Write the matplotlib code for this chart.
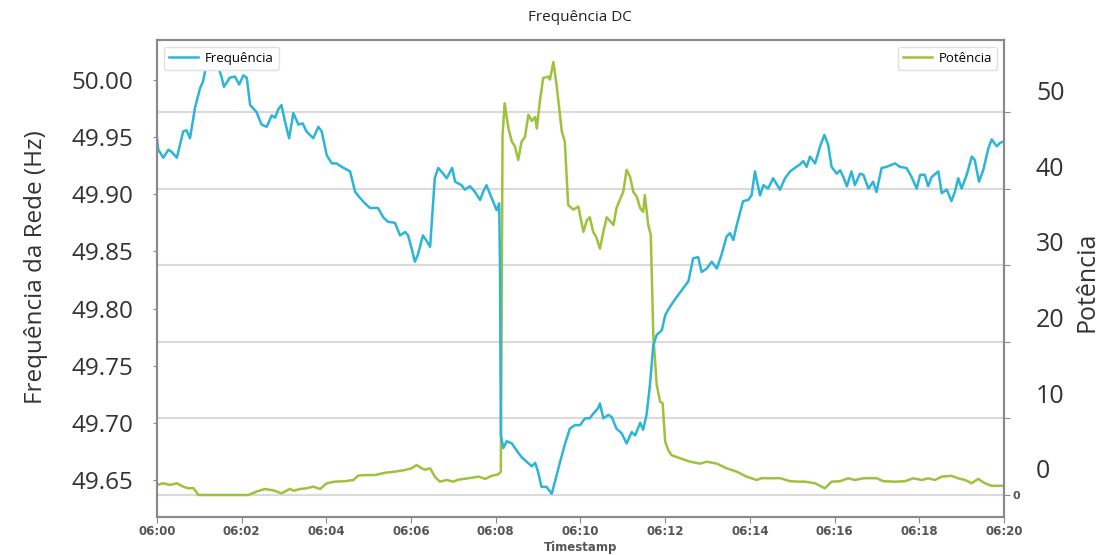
import pandas as pd
import matplotlib.pyplot as plt
import matplotlib.dates as mdates

# Minutes after 06:00 and grid frequency (Hz)
freq_minutes = [
    0.00, 0.03, 0.15, 0.27, 0.35, 0.47, 0.62, 0.70, 0.78, 0.90, 1.02, 1.09, 1.16, 1.30,
    1.45, 1.53, 1.58, 1.72, 1.84, 1.94, 2.04, 2.12, 2.20, 2.35, 2.47, 2.59, 2.71, 2.79,
    2.86, 2.94, 3.02, 3.12, 3.22, 3.34, 3.44, 3.53, 3.69, 3.81, 3.89, 4.01, 4.13, 4.24,
    4.36, 4.56, 4.68, 4.79, 4.91, 5.03, 5.22, 5.34, 5.45, 5.62, 5.74, 5.86, 5.93, 6.01,
    6.09, 6.16, 6.28, 6.37, 6.45, 6.56, 6.64, 6.76, 6.84, 6.97, 7.04, 7.19, 7.27, 7.39,
    7.51, 7.63, 7.70, 7.78, 7.90, 8.02, 8.08, 8.10, 8.12, 8.18, 8.26, 8.38, 8.49, 8.61,
    8.73, 8.85, 8.93, 9.00, 9.08, 9.20, 9.32, 9.40, 9.52, 9.63, 9.75, 9.87, 9.99, 10.11,
    10.22, 10.30, 10.42, 10.46, 10.54, 10.66, 10.74, 10.85, 10.97, 11.09, 11.21, 11.29,
    11.41, 11.48, 11.56, 11.64, 11.72, 11.80, 11.92, 12.00, 12.07, 12.23, 12.43, 12.55,
    12.66, 12.78, 12.86, 12.98, 13.10, 13.22, 13.33, 13.45, 13.53, 13.61, 13.69, 13.84,
    13.96, 14.04, 14.12, 14.24, 14.32, 14.43, 14.55, 14.71, 14.83, 14.95, 15.06, 15.18,
    15.26, 15.34, 15.42, 15.54, 15.66, 15.76, 15.85, 15.93, 16.05, 16.13, 16.21, 16.29,
    16.40, 16.48, 16.60, 16.68, 16.80, 16.91, 16.99, 17.11, 17.23, 17.43, 17.54, 17.70,
    17.82, 17.94, 18.02, 18.13, 18.21, 18.29, 18.45, 18.53, 18.65, 18.76, 18.84, 18.92,
    19.00, 19.12, 19.24, 19.31, 19.41, 19.51, 19.63, 19.71, 19.83, 19.91, 19.98,
]
freq_hz = [
    49.949, 49.939, 49.932, 49.939, 49.937, 49.932, 49.955, 49.956, 49.949, 49.976, 49.993, 49.999, 50.012, 50.014,
    50.011, 50.002, 49.994, 50.002, 50.003, 49.996, 50.004, 50.002, 49.978, 49.972, 49.961, 49.959, 49.969, 49.967,
    49.974, 49.978, 49.964, 49.949, 49.971, 49.961, 49.962, 49.955, 49.949, 49.959, 49.955, 49.934, 49.927, 49.927,
    49.924, 49.920, 49.902, 49.897, 49.892, 49.888, 49.888, 49.880, 49.876, 49.875, 49.864, 49.867, 49.864, 49.853,
    49.841, 49.847, 49.864, 49.859, 49.854, 49.914, 49.923, 49.918, 49.914, 49.923, 49.911, 49.908, 49.904, 49.907,
    49.902, 49.895, 49.902, 49.908, 49.897, 49.886, 49.892, 49.838, 49.689, 49.678, 49.684, 49.682, 49.676, 49.670,
    49.666, 49.662, 49.665, 49.657, 49.644, 49.644, 49.638, 49.649, 49.666, 49.681, 49.695, 49.698, 49.698, 49.704,
    49.704, 49.708, 49.713, 49.717, 49.704, 49.707, 49.705, 49.695, 49.691, 49.682, 49.692, 49.689,
    49.700, 49.694, 49.707, 49.733, 49.768, 49.777, 49.781, 49.794, 49.799, 49.808, 49.818, 49.824,
    49.844, 49.845, 49.832, 49.835, 49.841, 49.835, 49.847, 49.863, 49.866, 49.860, 49.873, 49.894,
    49.895, 49.899, 49.920, 49.899, 49.908, 49.905, 49.914, 49.904, 49.914, 49.920, 49.923, 49.926,
    49.929, 49.924, 49.933, 49.927, 49.942, 49.952, 49.943, 49.924, 49.918, 49.921, 49.915, 49.907,
    49.920, 49.908, 49.918, 49.917, 49.905, 49.911, 49.902, 49.923, 49.924, 49.927, 49.924, 49.923,
    49.915, 49.905, 49.917, 49.917, 49.907, 49.915, 49.920, 49.901, 49.904, 49.894, 49.902, 49.914,
    49.905, 49.917, 49.933, 49.930, 49.911, 49.921, 49.940, 49.948, 49.942, 49.945, 49.946,
]

# Minutes after 06:00 and DC power
power_minutes = [
    0.00, 0.14, 0.31, 0.47, 0.62, 0.74, 0.86, 0.98, 2.16, 2.35, 2.55, 2.75, 2.94, 3.14,
    3.22, 3.38, 3.53, 3.69, 3.85, 4.01, 4.20, 4.44, 4.64, 4.75, 4.91, 5.15, 5.38, 5.62,
    5.86, 6.01, 6.13, 6.25, 6.33, 6.45, 6.56, 6.68, 6.84, 7.00, 7.11, 7.35, 7.59, 7.75,
    7.90, 8.06, 8.12, 8.16, 8.21, 8.30, 8.38, 8.45, 8.53, 8.61, 8.69, 8.77, 8.85, 8.93,
    8.97, 9.04, 9.12, 9.24, 9.28, 9.36, 9.44, 9.56, 9.63, 9.71, 9.83, 9.95, 10.07, 10.15,
    10.22, 10.30, 10.38, 10.46, 10.54, 10.62, 10.70, 10.78, 10.85, 10.93, 11.01, 11.09,
    11.17, 11.25, 11.33, 11.41, 11.48, 11.52, 11.60, 11.66, 11.72, 11.80, 11.88, 11.94,
    12.00, 12.07, 12.15, 12.35, 12.59, 12.82, 12.98, 13.22, 13.45, 13.69, 13.92, 14.16,
    14.28, 14.47, 14.71, 14.95, 15.18, 15.30, 15.54, 15.77, 15.93, 16.13, 16.32, 16.48,
    16.68, 16.84, 17.00, 17.15, 17.43, 17.66, 17.86, 18.06, 18.21, 18.37, 18.53, 18.76,
    18.92, 19.08, 19.24, 19.39, 19.55, 19.71, 19.95,
]
power_values = [
    1.31, 1.53, 1.31, 1.53, 1.09, 0.87, 0.90, 0.00, 0.00, 0.44, 0.78, 0.60, 0.22, 0.80,
    0.55, 0.78, 0.87, 1.09, 0.78, 1.53, 1.74, 1.80, 1.96, 2.53, 2.60, 2.61, 2.90, 3.05,
    3.27, 3.48, 3.92, 3.48, 3.30, 3.48, 2.40, 1.74, 1.96, 1.74, 2.00, 2.18, 2.40, 2.10,
    2.50, 2.70, 3.05, 47.0, 51.2, 47.9, 46.2, 45.6, 43.8, 46.2, 46.8, 49.7, 48.9, 49.4,
    47.9, 51.4, 54.5, 54.7, 54.3, 56.6, 53.4, 47.5, 46.2, 37.9, 37.3, 37.7, 34.4, 35.9,
    36.3, 34.4, 33.6, 32.2, 34.4, 36.3, 35.8, 35.3, 37.5, 38.6, 39.6, 42.5,
    41.6, 39.6, 39.0, 37.5, 37.0, 39.2, 35.3, 34.0, 20.9, 14.4, 12.2, 12.0,
    7.0, 5.9, 5.2, 4.8, 4.35, 4.10, 4.35, 4.10, 3.48, 3.05, 2.40, 1.96,
    2.20, 2.18, 2.20, 1.80, 1.74, 1.74, 1.53, 0.87, 1.74, 1.80, 2.18, 1.96,
    2.18, 2.20, 2.18, 1.80, 1.74, 1.80, 2.18, 1.96, 2.18, 1.96, 2.40, 2.50,
    2.18, 1.96, 1.53, 2.10, 1.53, 1.20, 1.20,
]

freq_ticks = [49.65, 49.70, 49.75, 49.80, 49.85, 49.90, 49.95, 50.00]
power_ticks = [0, 10, 20, 30, 40, 50]
power_tick_labels = ['0', '', '', '', '', '']

start = pd.Timestamp('2024-01-01 06:00')
freq_time = start + pd.to_timedelta(freq_minutes, unit='m')
power_time = start + pd.to_timedelta(power_minutes, unit='m')

blue = '#2cb5d6'
green = '#9dc23b'
spine_gray = '#8a8a8a'

fig = plt.figure(figsize=(11.18, 5.55), dpi=100)
ax = fig.add_axes([0.1404, 0.069, 0.7576, 0.859])
ax2 = ax.twinx()
ax3 = ax.twinx()

# frequency axis sits above the power axis so the blue trace is on top
ax.set_zorder(ax2.get_zorder() + 2)
ax.patch.set_visible(False)

ax.plot(freq_time, freq_hz, color=blue, lw=1.8, label='Frequência')
ax2.plot(power_time, power_values, color=green, lw=1.8, label='Potência')

ax.set_xlim(start, start + pd.Timedelta(minutes=20))
ax.set_ylim(49.6179, 50.035)
ax2.set_ylim(-2.84, 59.48)
ax3.set_ylim(-6.35, 56.7)

ax.xaxis.set_major_locator(mdates.MinuteLocator(byminute=range(0, 60, 2)))
ax.xaxis.set_major_formatter(mdates.DateFormatter('%H:%M'))
ax.tick_params(axis='x', length=4, color=spine_gray, labelsize=8.5, labelcolor='#555555', pad=2)
for lbl in ax.get_xticklabels():
    lbl.set_fontweight('bold')
ax.set_xlabel('Timestamp', fontsize=8.5, fontweight='bold', color='#555555', labelpad=2)

ax.set_yticks(freq_ticks)
ax.set_yticklabels([f'{v:.2f}' for v in freq_ticks], family='Open Sans')
ax.tick_params(axis='y', length=3, color=spine_gray, labelsize=17.5, labelcolor='#333333', pad=14)

ax2.set_yticks(power_ticks)
ax2.set_yticklabels(power_tick_labels)
ax2.tick_params(axis='y', length=4, color=spine_gray, labelsize=8, labelcolor='#555555', pad=2)
for lbl in ax2.get_yticklabels():
    lbl.set_fontweight('bold')
ax2.grid(axis='y', color='#dadada', lw=1.5)
ax2.set_axisbelow(True)

ax3.set_yticks(power_ticks)
ax3.set_yticklabels([str(v) for v in power_ticks], family='Open Sans')
ax3.tick_params(axis='y', length=0, labelsize=18, labelcolor='#333333', pad=23)
for side in ['left', 'right', 'top', 'bottom']:
    ax3.spines[side].set_visible(False)

for a in (ax, ax2):
    for side in ['left', 'right', 'top', 'bottom']:
        a.spines[side].set_color(spine_gray)
        a.spines[side].set_linewidth(1.5)

leg_kw = dict(prop={'family': 'Open Sans', 'size': 9.5}, handlelength=2.2, handletextpad=0.5,
              borderaxespad=0.5, borderpad=0.4, framealpha=1, edgecolor='#e0e0e0')
ax.legend(loc='upper left', **leg_kw)
ax2.legend(loc='upper right', **leg_kw)

fig.text(0.519, 0.9676, 'Frequência DC', ha='center', va='center', family='Open Sans', fontsize=11,
         color='#222222')
fig.text(0.0322, 0.519, 'Frequência da Rede (Hz)', rotation=90, ha='center', va='center',
         family='Open Sans', fontsize=17.5, color='#333333')
fig.text(0.9723, 0.4928, 'Potência', rotation=90, ha='center', va='center',
         family='Open Sans', fontsize=18, color='#333333')

fig.savefig('out.png', dpi=100)
